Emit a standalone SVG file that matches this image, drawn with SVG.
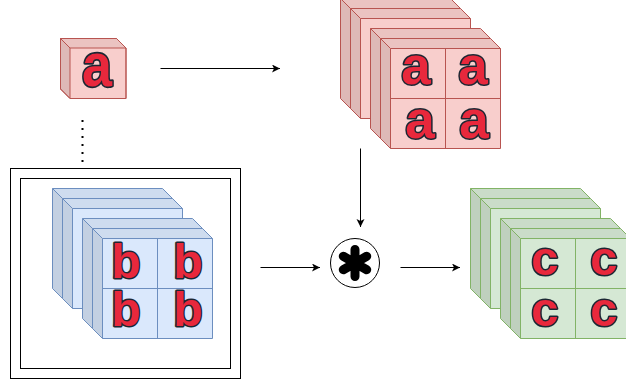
<svg xmlns="http://www.w3.org/2000/svg" xmlns:xlink="http://www.w3.org/1999/xlink" width="626" height="385" viewBox="0 0 626 385">
<style>
.lt{font-family:"Liberation Sans",Arial,sans-serif;font-weight:700;fill:#e8283c;stroke:#1c2733;stroke-width:3;paint-order:stroke;stroke-linejoin:round;text-anchor:middle}
.red{fill:#f8cecc;stroke:#b85450}
.blue{fill:#dae8fc;stroke:#6c8ebf}
.green{fill:#d5e8d4;stroke:#82b366}
.grid{fill:none;stroke-width:1}
.conn{fill:none;stroke:#000;stroke-width:1}
.frame{fill:none;stroke:#000;stroke-width:1}
</style>
<defs>
<marker id="ah" markerWidth="10" markerHeight="10" refX="8" refY="4" orient="auto" markerUnits="userSpaceOnUse"><path d="M0,0L8,4L0,8L2,4Z" fill="#000"/></marker>
<g id="cube">
<path d="M0,0H110L120,10V110H10L0,100Z" stroke="none"/>
<polygon points="0,0 110,0 120,10 10,10" fill="#000" fill-opacity="0.05" stroke="none"/>
<polygon points="0,0 10,10 10,110 0,100" fill="#000" fill-opacity="0.1" stroke="none"/>
<path d="M0,0H110L120,10V110H10L0,100Z M10,110V10H120 M0,0L10,10" fill="none"/>
</g>
</defs>

<g id="node-a">
<path class="red" d="M60.5,38.5H116.5L126,48V98.5H70L60.5,89Z" stroke="none"/>
<polygon points="60.5,38.5 116.5,38.5 126,48 70,48" fill="#000" fill-opacity="0.05"/>
<polygon points="60.5,38.5 70,48 70,98.5 60.5,89" fill="#000" fill-opacity="0.1"/>
<path d="M60.5,38.5H116.5L126,48V98.5H70L60.5,89Z M70,98.5V48H126 M60.5,38.5L70,48" fill="none" stroke="#b85450"/>
<text class="lt" x="97" y="86" font-size="54" transform="translate(0,86) scale(1,1.12) translate(0,-86)">a</text>
</g>

<g id="node-A">
<use xlink:href="#cube" class="red" x="340.5" y="-1.5"/>
<use xlink:href="#cube" class="red" x="350.5" y="8.5"/>
<use xlink:href="#cube" class="red" x="370.5" y="28.5"/>
<use xlink:href="#cube" class="red" x="380.5" y="38.5"/>
<path class="grid" stroke="#b85450" d="M445.5,48.5V148.5M390.5,98.5H500.5"/>
<text class="lt" x="416" y="84" font-size="53">a</text>
<text class="lt" x="473" y="84" font-size="53">a</text>
<text class="lt" x="420" y="138" font-size="53">a</text>
<text class="lt" x="474" y="138" font-size="53">a</text>
</g>

<g id="node-B">
<rect class="frame" x="10.5" y="168.5" width="230" height="210"/>
<rect class="frame" x="20.5" y="178.5" width="210" height="190"/>
<use xlink:href="#cube" class="blue" x="52.5" y="188.5"/>
<use xlink:href="#cube" class="blue" x="62.5" y="198.5"/>
<use xlink:href="#cube" class="blue" x="82.5" y="218.5"/>
<use xlink:href="#cube" class="blue" x="92.5" y="228.5"/>
<path class="grid" stroke="#6c8ebf" d="M157.5,238.5V338.5M102.5,288.5H212.5"/>
<text class="lt" x="126" y="278" font-size="48">b</text>
<text class="lt" x="188" y="278" font-size="48">b</text>
<text class="lt" x="126" y="326" font-size="48">b</text>
<text class="lt" x="188" y="326" font-size="48">b</text>
</g>

<g id="node-op">
<circle cx="355" cy="263" r="24.5" fill="#fff" stroke="#000" stroke-width="1"/>
<path d="M355,249.5V276.5M343.3,256.25L366.7,269.75M343.3,269.75L366.7,256.25" stroke="#000" stroke-width="9" stroke-linecap="round" fill="none"/>
</g>

<g id="node-C">
<use xlink:href="#cube" class="green" x="470.5" y="188.5"/>
<use xlink:href="#cube" class="green" x="480.5" y="198.5"/>
<use xlink:href="#cube" class="green" x="500.5" y="218.5"/>
<use xlink:href="#cube" class="green" x="510.5" y="228.5"/>
<path class="grid" stroke="#82b366" d="M575.5,238.5V338.5M520.5,288.5H630.5"/>
<text class="lt" x="545" y="275" font-size="49">c</text>
<text class="lt" x="604" y="275" font-size="49">c</text>
<text class="lt" x="545" y="326" font-size="49">c</text>
<text class="lt" x="604" y="326" font-size="49">c</text>
</g>

<g id="connectors">
<path class="conn" d="M160.5,68.5H280" marker-end="url(#ah)"/>
<path class="conn" d="M360.5,148.5V227" marker-end="url(#ah)"/>
<path class="conn" d="M260.5,267.5H320" marker-end="url(#ah)"/>
<path class="conn" d="M400.5,267.5H460" marker-end="url(#ah)"/>
<path d="M82.5,120V162" stroke="#000" stroke-width="2" stroke-dasharray="2 6" fill="none"/>
</g>
</svg>
